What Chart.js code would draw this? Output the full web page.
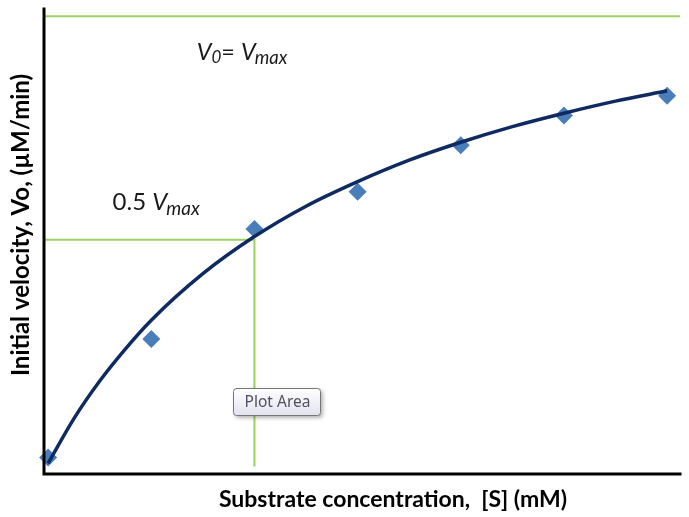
<!DOCTYPE html>
<html>
<head>
<meta charset="utf-8">
<script src="https://cdn.jsdelivr.net/npm/chart.js@4/dist/chart.umd.min.js"></script>
<style>
  html, body { margin: 0; padding: 0; background: #ffffff; }
  #wrap { position: relative; width: 689px; height: 517px; }
</style>
</head>
<body>
<div id="wrap"><canvas id="chart" width="689" height="517"></canvas></div>
<script>
// Measured initial velocities at each substrate concentration
const substrate = [0, 1, 2, 3, 4, 5, 6];
const velocity = [1.3, 27.8, 52.4, 60.7, 71.1, 77.8, 82.2];

// Fitted saturation curve, sampled along [S]
const curveS = [0, 0.25, 0.5, 0.75, 1, 1.5, 2, 2.5, 3, 3.5, 4, 4.5, 5, 5.5, 6];
const curveV = [0, 10, 18.4, 25.6, 32, 42.4, 50.7, 57.5, 63, 67.8, 71.8, 75.3, 78.3, 81, 83.3];

// Reference levels
const vmax = 100;
const halfVmax = 50;
const km = 2;

// Axis ranges
const xRange = [-0.04, 6.125];
const yRange = [-2.4, 101.6];

// Axis titles and annotation text
const xTitle = 'Substrate concentration,  [S] (mM)';
const yTitle = 'Initial velocity, Vo, (\u00b5M/min)';
const tipText = 'Plot Area';

const pts = (xs, ys) => xs.map((x, i) => ({ x: x, y: ys[i] }));

const FONT = 'Lato, "Open Sans", sans-serif';

// Draws a run of text pieces (normal / subscript) starting at x on a baseline
function drawRich(ctx, x, y, parts) {
  let cx = x;
  parts.forEach(p => {
    ctx.font = (p.italic ? 'italic ' : '') + p.size + 'px ' + FONT;
    ctx.fillText(p.t, cx, y + (p.dy || 0));
    cx += ctx.measureText(p.t).width + (p.gap || 0);
  });
}

const decorations = {
  id: 'decorations',
  afterDatasetsDraw(chart) {
    const { ctx, chartArea: a, scales: { x, y } } = chart;
    ctx.save();

    // axis lines
    ctx.strokeStyle = '#000000';
    ctx.lineWidth = 3;
    ctx.lineCap = 'square';
    ctx.beginPath();
    ctx.moveTo(a.left, a.top);
    ctx.lineTo(a.left, a.bottom);
    ctx.lineTo(a.right, a.bottom);
    ctx.stroke();

    // annotations
    ctx.fillStyle = '#1a1a1a';
    ctx.textBaseline = 'alphabetic';
    ctx.textAlign = 'left';
    const lx1 = x.getPixelForValue(1.44);
    const ly1 = y.getPixelForValue(vmax) + 44;
    drawRich(ctx, lx1, ly1, [
      { t: 'V', size: 23.5, italic: true },
      { t: '0', size: 17, italic: true, dy: 3 },
      { t: '= ', size: 23.5 },
      { t: 'V', size: 23.5, italic: true, gap: -1 },
      { t: 'max', size: 18.5, italic: true, dy: 4 }
    ]);
    const lx2 = x.getPixelForValue(0.625);
    const ly2 = y.getPixelForValue(halfVmax) - 30;
    drawRich(ctx, lx2, ly2, [
      { t: '0.5 ', size: 24 },
      { t: 'V', size: 24, italic: true, gap: -1 },
      { t: 'max', size: 19, italic: true, dy: 5 }
    ]);

    // axis titles
    ctx.fillStyle = '#000000';
    ctx.font = 'bold 23px ' + FONT;
    ctx.textAlign = 'center';
    ctx.textBaseline = 'middle';
    ctx.fillText(xTitle, 393, 500);
    ctx.save();
    ctx.translate(21, 225);
    ctx.rotate(-Math.PI / 2);
    ctx.font = 'bold 24px ' + FONT;
    ctx.fillText(yTitle, 0, 0);
    ctx.restore();

    // hover box over the plot area
    const bx = 233, by = 388, bw = 87, bh = 27;
    ctx.shadowColor = 'rgba(0,0,0,0.35)';
    ctx.shadowBlur = 4;
    ctx.shadowOffsetX = 2;
    ctx.shadowOffsetY = 2;
    const g = ctx.createLinearGradient(0, by, 0, by + bh);
    g.addColorStop(0, '#ffffff');
    g.addColorStop(1, '#e2e3ef');
    ctx.fillStyle = g;
    ctx.beginPath();
    ctx.roundRect(bx + 0.5, by + 0.5, bw, bh, 3);
    ctx.fill();
    ctx.shadowColor = 'transparent';
    ctx.strokeStyle = '#767676';
    ctx.lineWidth = 1;
    ctx.stroke();
    ctx.fillStyle = '#505062';
    ctx.font = '15.5px "Noto Sans", "Open Sans", sans-serif';
    ctx.textAlign = 'center';
    ctx.textBaseline = 'middle';
    ctx.fillText(tipText, bx + bw / 2 + 1, by + bh / 2 + 1);

    ctx.restore();
  }
};

new Chart(document.getElementById('chart'), {
  type: 'scatter',
  data: {
    datasets: [
      {
        label: 'fit',
        data: pts(curveS, curveV),
        showLine: true,
        borderColor: '#0f2a60',
        borderWidth: 3.5,
        pointRadius: 0,
        cubicInterpolationMode: 'monotone',
        fill: false
      },
      {
        label: 'observed',
        data: pts(substrate, velocity),
        pointStyle: 'rectRot',
        pointRadius: 9,
        pointHoverRadius: 9,
        pointBackgroundColor: '#4a7ebb',
        pointBorderColor: '#4a7ebb',
        pointBorderWidth: 0,
        clip: false
      },
      {
        label: 'Vmax',
        data: [{ x: xRange[0], y: vmax }, { x: xRange[1], y: vmax }],
        showLine: true,
        borderColor: '#9bd160',
        borderWidth: 2,
        pointRadius: 0
      },
      {
        label: 'half',
        data: [{ x: xRange[0], y: halfVmax }, { x: km, y: halfVmax }, { x: km, y: -0.7 }],
        showLine: true,
        borderColor: '#9bd160',
        borderWidth: 2,
        pointRadius: 0
      }
    ]
  },
  options: {
    responsive: false,
    animation: false,
    events: [],
    layout: { padding: { left: 44, top: 6, right: 4, bottom: 43 } },
    plugins: { legend: { display: false }, tooltip: { enabled: false } },
    scales: {
      x: { type: 'linear', display: false, min: xRange[0], max: xRange[1] },
      y: { type: 'linear', display: false, min: yRange[0], max: yRange[1] }
    }
  },
  plugins: [decorations]
});
</script>
</body>
</html>
